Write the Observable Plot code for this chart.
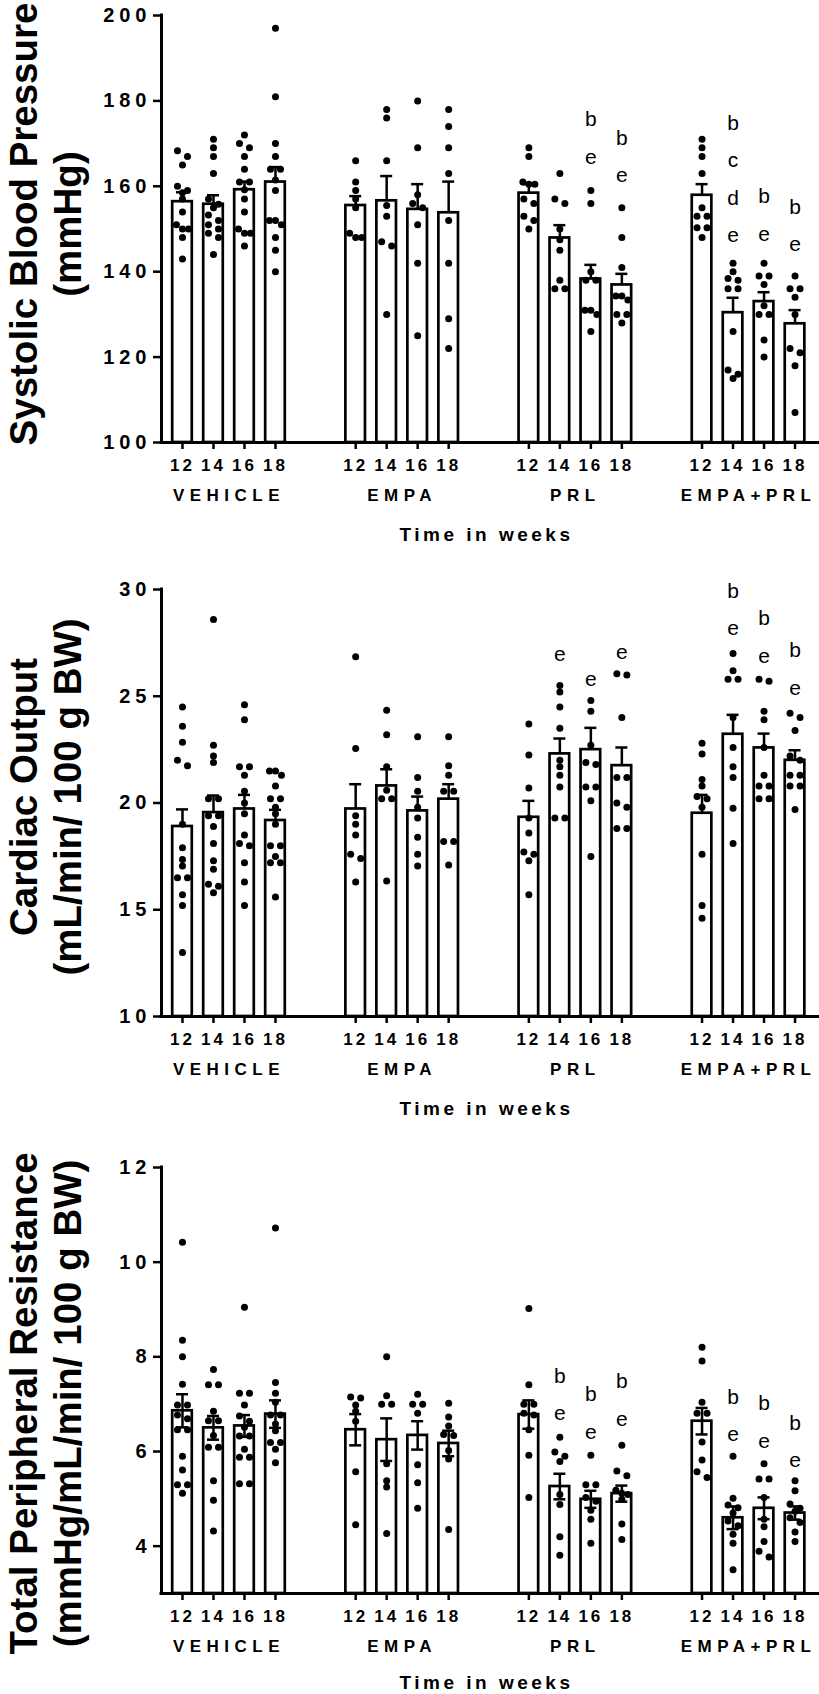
<!DOCTYPE html>
<html><head><meta charset="utf-8">
<script src="https://cdn.jsdelivr.net/npm/d3@7"></script>
<script src="https://cdn.jsdelivr.net/npm/@observablehq/plot@0.6"></script>
<style>
html,body{margin:0;padding:0;background:#fff;}
#chart svg{display:block;}
</style></head><body><div id="chart"></div>
<script>
// ---------- categories ----------
const groups = ["VEHICLE", "EMPA", "PRL", "EMPA+PRL"];
const weeks = ["12", "14", "16", "18"];
const xTitle = "Time in weeks";

// ---------- Panel 1: Systolic blood pressure ----------
const sbpTitle = "Systolic Blood Pressure\n(mmHg)";
const sbpTicks = [100, 120, 140, 160, 180, 200];
const sbpMean = [156.4, 155.8, 159.2, 161.0, 155.5, 156.6, 154.6, 153.8, 158.4, 147.9, 138.3, 136.9, 157.9, 130.4, 133.0, 127.8];
const sbpSem  = [2.2, 2.1, 1.9, 3.5, 2.2, 5.8, 5.9, 7.3, 2.1, 3.0, 3.3, 2.6, 2.6, 3.5, 2.2, 3.2];
const sbpPoints = [
  [168.3, 167, 165, 160, 159, 158.5, 157, 154, 151, 150, 150, 148, 143],
  [171, 169, 167, 163, 157, 155.8, 155, 153.3, 152, 151, 150, 149, 148, 144],
  [172, 170, 169, 167, 164, 161, 161, 159.2, 157, 154, 150, 149, 149, 146],
  [197, 181, 170, 167, 164, 164, 161.5, 159, 152, 152, 151, 148, 145, 140],
  [166, 161, 159, 157, 155, 149, 148, 148],
  [178, 176, 166, 155.5, 153, 147, 146, 130],
  [180, 169, 158, 156, 155, 151, 142, 125],
  [178, 174, 169, 163, 152, 142, 129, 122],
  [169, 167, 161, 160.5, 160.5, 157, 156, 153, 152, 150],
  [163, 157, 156, 150, 147.5, 145, 138, 136, 136],
  [159, 156, 140, 138, 138, 131, 131, 130, 126],
  [155, 148, 141, 134.3, 134.3, 133.4, 130, 130, 128],
  [171, 169, 167, 163, 155, 153, 153, 150.3, 150.3, 148],
  [142, 140, 138.4, 138, 136, 136, 126, 117, 116, 115],
  [142, 139, 139, 137, 132, 130, 130, 124, 120],
  [139, 136, 136, 134, 130, 122, 121, 118, 107]
];
const sbpLetters  = ["", "", "", "", "", "", "", "", "", "", "be", "be", "", "bcde", "be", "be"];
const sbpLetterAt = [null, null, null, null, null, null, null, null, null, null, 166.5, 162.2, null, 148.1, 148.4, 146.0];

// ---------- Panel 2: Cardiac output ----------
const coTitle = "Cardiac Output\n(mL/min/ 100 g BW)";
const coTicks = [10, 15, 20, 25, 30];
const coMean = [18.9, 19.55, 19.72, 19.18, 19.72, 20.8, 19.63, 20.18, 19.33, 22.3, 22.5, 21.75, 19.52, 23.22, 22.58, 22.0];
const coSem  = [0.8, 0.8, 0.66, 0.5, 1.16, 0.78, 0.67, 0.7, 0.77, 0.72, 1.02, 0.85, 0.86, 0.91, 0.67, 0.47];
const coPoints = [
  [24.5, 23.6, 22.85, 22.0, 21.75, 19.0, 17.9, 17.35, 17.05, 16.5, 16.5, 15.7, 15.2, 13.0],
  [28.6, 22.7, 22.2, 21.9, 20.2, 20.2, 19.4, 19.4, 18.9, 18.1, 17.3, 16.9, 16.2, 16.1, 15.8],
  [24.6, 23.9, 21.7, 21.7, 21.3, 20.55, 20.0, 19.5, 18.5, 18.1, 18.0, 17.2, 16.3, 15.2],
  [21.5, 21.5, 21.3, 20.8, 20.2, 20.2, 19.8, 19.5, 19.0, 18.0, 18.0, 17.5, 17.2, 17.2, 15.6],
  [26.85, 22.55, 19.4, 19.0, 18.5, 17.6, 17.4, 16.3],
  [24.35, 23.2, 21.7, 20.6, 20.2, 20.2, 16.35],
  [23.1, 21.2, 20.55, 19.8, 19.3, 18.4, 17.6, 17.05],
  [23.1, 21.75, 21.3, 20.55, 20.55, 18.2, 18.2, 17.1],
  [23.7, 22.25, 20.7, 19.3, 18.6, 17.7, 17.6, 17.3, 15.7],
  [25.5, 25.2, 24.5, 23.5, 22.0, 21.7, 21.3, 20.75, 19.3, 19.3],
  [24.8, 24.3, 22.7, 21.9, 21.8, 20.75, 20.75, 20.1, 17.5],
  [26.05, 26.0, 24.0, 21.2, 21.2, 20.0, 19.8, 18.8, 18.8],
  [22.8, 22.3, 21.1, 20.8, 20.3, 20.2, 19.8, 17.6, 15.2, 14.6],
  [27.0, 26.2, 25.8, 25.8, 24.0, 22.6, 21.7, 21.2, 19.75, 18.1],
  [25.8, 25.7, 24.3, 23.9, 22.6, 21.3, 20.8, 20.8, 20.2, 20.2],
  [24.2, 24.0, 23.4, 22.2, 22.0, 21.3, 21.3, 20.8, 20.8, 19.7]
];
const coLetters  = ["", "", "", "", "", "", "", "", "", "e", "e", "e", "", "be", "be", "be"];
const coLetterAt = [null, null, null, null, null, null, null, null, null, 26.9, 25.7, 27.0, null, 28.1, 26.8, 25.3];

// ---------- Panel 3: Total peripheral resistance ----------
const tprTitle = "Total Peripheral Resistance\n(mmHg/mL/min/ 100 g BW)";
const tprTicks = [4, 6, 8, 10, 12];
const tprMean = [6.86, 6.5, 6.54, 6.79, 6.46, 6.25, 6.34, 6.17, 6.78, 5.26, 4.99, 5.11, 6.64, 4.6, 4.8, 4.7];
const tprSem  = [0.35, 0.25, 0.23, 0.29, 0.33, 0.45, 0.3, 0.27, 0.3, 0.27, 0.18, 0.17, 0.28, 0.24, 0.23, 0.14];
const tprPoints = [
  [10.42, 8.35, 8.0, 7.42, 6.98, 6.98, 6.77, 6.69, 6.46, 6.46, 5.9, 5.61, 5.3, 5.3, 5.12],
  [7.73, 7.41, 7.41, 6.85, 6.65, 6.65, 6.34, 6.09, 6.09, 5.38, 4.97, 4.32],
  [9.05, 7.23, 7.23, 6.98, 6.75, 6.64, 6.51, 6.33, 6.33, 6.05, 5.88, 5.88, 5.32, 5.32],
  [10.72, 7.46, 7.23, 7.04, 6.77, 6.77, 6.58, 6.44, 6.19, 6.19, 6.05, 5.76],
  [7.15, 7.13, 6.98, 6.85, 6.64, 5.57, 4.45],
  [8.0, 7.18, 7.0, 7.0, 5.74, 5.38, 5.25, 4.27],
  [7.21, 7.0, 7.0, 6.81, 5.72, 5.34, 4.8],
  [7.02, 6.73, 6.54, 6.36, 6.34, 6.02, 5.84, 4.35],
  [9.02, 7.41, 7.0, 7.0, 6.81, 6.77, 6.46, 5.92, 5.03],
  [6.3, 5.99, 5.9, 5.79, 5.09, 4.88, 4.2, 3.81],
  [5.92, 5.3, 5.3, 5.03, 4.95, 4.76, 4.57, 4.06],
  [6.13, 5.59, 5.49, 5.18, 5.12, 5.09, 4.99, 4.47, 4.14],
  [8.2, 7.91, 7.04, 6.81, 6.81, 6.2, 5.82, 5.57, 5.45],
  [5.9, 5.01, 4.87, 4.81, 4.7, 4.53, 4.43, 4.25, 4.06, 3.5],
  [5.74, 5.42, 5.42, 5.03, 4.57, 4.41, 4.1, 3.89, 3.77],
  [5.38, 5.17, 4.89, 4.8, 4.74, 4.6, 4.5, 4.3, 4.1]
];
const tprLetters  = ["", "", "", "", "", "", "", "", "", "be", "be", "be", "", "be", "be", "be"];
const tprLetterAt = [null, null, null, null, null, null, null, null, null, 6.77, 6.38, 6.65, null, 6.32, 6.19, 5.78];

// ---------- layout ----------
const FONT = "Arial, 'Liberation Sans', Helvetica, sans-serif";
const WIDTH = 819, ML = 161, MR = 0;
const GROUP_STEP = 5.587;          // distance between groups, in bar slots
const XDOMAIN = [-0.677, 20.55];
const xPx = (WIDTH - ML - MR) / (XDOMAIN[1] - XDOMAIN[0]);

function panel(cfg) {
  const {title, mean, sem, points, letters, letterAt, yDomain, yTicks,
         height, marginTop, marginBottom, titleDy, xTitleDy, twoSided} = cfg;
  const bars = [];
  groups.forEach((g, gi) => weeks.forEach((w, wi) => {
    const i = gi * 4 + wi;
    bars.push({i, g, w, pos: gi * GROUP_STEP + wi, mean: mean[i], sem: sem[i],
               letters: letters[i], letterAt: letterAt[i]});
  }));
  const weekOf = new Map(bars.map(b => [b.pos, b.w]));
  const plotH = height - marginTop - marginBottom;
  const pxPerUnit = plotH / (yDomain[1] - yDomain[0]);

  // simple scatter layout (GraphPad-like): near-equal values side by side
  const dots = [];
  bars.forEach(b => {
    const vals = points[b.i].slice().sort((a, c) => c - a);
    const rows = [];
    let row = [];
    for (const v of vals) {
      if (row.length && (row[0] - v) * pxPerUnit < 6 && row.length < 3) row.push(v);
      else { if (row.length) rows.push(row); row = [v]; }
    }
    if (row.length) rows.push(row);
    for (const r of rows) {
      const offs = r.length === 1 ? [0] : r.length === 2 ? [-5, 5] : [-6, 0, 6];
      r.forEach((v, k) => dots.push({x: b.pos + offs[k] / xPx, y: v}));
    }
  });

  const y0 = yDomain[0];
  const half = 9.8 / xPx, cap = 6 / xPx;
  const withLetters = bars.filter(b => b.letters);

  const svg = Plot.plot({
    width: WIDTH, height, marginLeft: ML, marginRight: MR, marginTop, marginBottom,
    style: {fontFamily: FONT, background: "white", color: "black"},
    x: {domain: XDOMAIN},
    y: {domain: yDomain},
    marks: [
      Plot.rect(bars, {x1: d => d.pos - half, x2: d => d.pos + half, y1: y0, y2: "mean",
                       fill: "white", stroke: "black", strokeWidth: 2.7}),
      Plot.ruleX(bars, {x: "pos", y1: d => twoSided ? d.mean - d.sem : d.mean, y2: d => d.mean + d.sem,
                        stroke: "black", strokeWidth: 2.5}),
      Plot.ruleY(bars, {y: d => d.mean + d.sem, x1: d => d.pos - cap, x2: d => d.pos + cap,
                        stroke: "black", strokeWidth: 2.5}),
      twoSided ? Plot.ruleY(bars, {y: d => d.mean - d.sem, x1: d => d.pos - cap, x2: d => d.pos + cap,
                        stroke: "black", strokeWidth: 2.5}) : null,
      Plot.dot(dots, {x: "x", y: "y", r: 3.5, fill: "black", stroke: null}),
      Plot.text(withLetters, {x: "pos", y: "letterAt", text: d => d.letters.split("").join("\n"),
                              lineAnchor: "bottom", lineHeight: 1.78, fontSize: 21, dy: 5}),
      Plot.ruleY([y0], {stroke: "black", strokeWidth: 3, strokeLinecap: "square"}),
      Plot.ruleX([XDOMAIN[0]], {stroke: "black", strokeWidth: 3, strokeLinecap: "square"}),
      Plot.axisY(yTicks, {label: null, tickSize: 8, tickPadding: 2, strokeWidth: 2.5,
                          fontSize: 20, fontWeight: "bold"}),
      Plot.axisX(bars.map(b => b.pos), {label: null, tickSize: 7, tickPadding: 9, strokeWidth: 2.5,
                          tickFormat: p => weekOf.get(p), fontSize: 17, fontWeight: "bold"}),
      Plot.text(groups, {x: (g, i) => i * GROUP_STEP + 1.5, frameAnchor: "bottom", lineAnchor: "middle",
                         dy: 53, fontSize: 17, fontWeight: "bold"}),
      Plot.text([xTitle], {frameAnchor: "bottom", lineAnchor: "middle", dy: xTitleDy, dx: -4,
                           fontSize: 19, fontWeight: "bold"}),
      Plot.text([title], {frameAnchor: "left", textAnchor: "middle", lineAnchor: "middle",
                          dx: -117, dy: titleDy, rotate: -90,
                          fontSize: 38.5, fontWeight: "bold", lineHeight: 1.15})
    ]
  });

  // GraphPad-style letter spacing
  svg.querySelectorAll('g[aria-label="y-axis tick label"] text').forEach(t => t.style.letterSpacing = "5px");
  svg.querySelectorAll('g[aria-label="x-axis tick label"] text').forEach(t => t.style.letterSpacing = "3px");
  svg.querySelectorAll("text").forEach(t => {
    const s = t.textContent;
    if (groups.includes(s)) t.style.letterSpacing = "5.5px";
    else if (s === xTitle) t.style.letterSpacing = "3.5px";
  });
  return svg;
}

const root = document.getElementById("chart");
root.appendChild(panel({title: sbpTitle, mean: sbpMean, sem: sbpSem, points: sbpPoints,
  letters: sbpLetters, letterAt: sbpLetterAt, yDomain: [100, 200], yTicks: sbpTicks,
  height: 560, marginTop: 15, marginBottom: 118, titleDy: -5, xTitleDy: 92, twoSided: false}));
root.appendChild(panel({title: coTitle, mean: coMean, sem: coSem, points: coPoints,
  letters: coLetters, letterAt: coLetterAt, yDomain: [10, 30], yTicks: coTicks,
  height: 570, marginTop: 29, marginBottom: 114, titleDy: -6, xTitleDy: 92, twoSided: false}));
root.appendChild(panel({title: tprTitle, mean: tprMean, sem: tprSem, points: tprPoints,
  letters: tprLetters, letterAt: tprLetterAt, yDomain: [3, 12], yTicks: tprTicks,
  height: 564, marginTop: 37, marginBottom: 101, titleDy: 23, xTitleDy: 89, twoSided: true}));
</script>
</body></html>
